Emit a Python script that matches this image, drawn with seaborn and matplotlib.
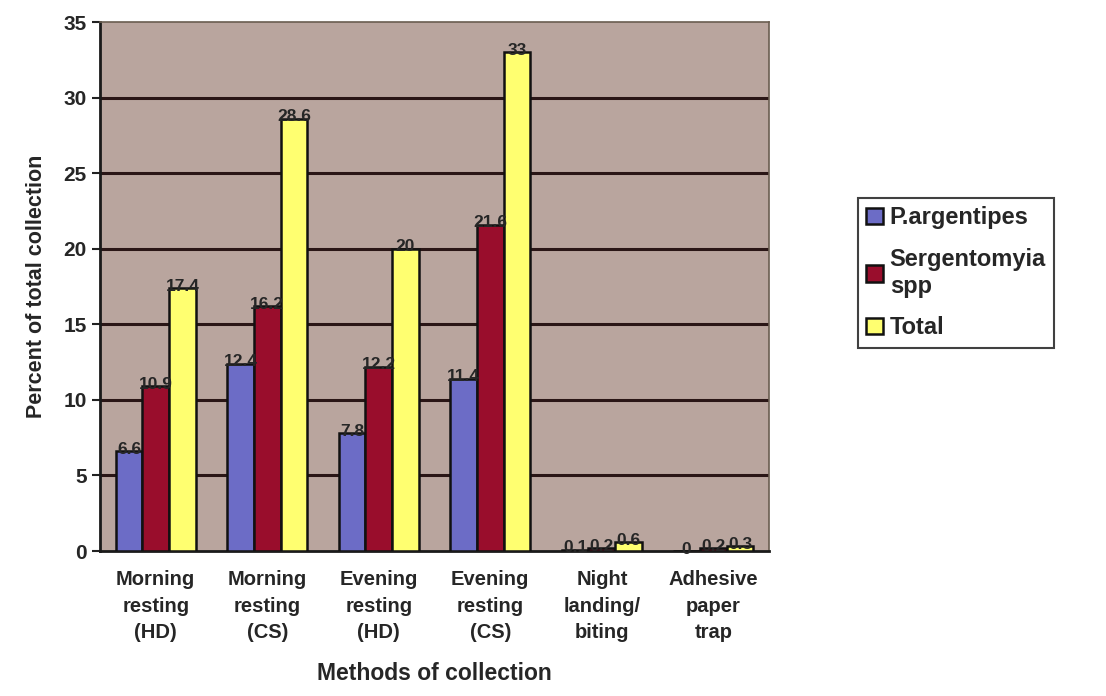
import numpy as np
import pandas as pd
import matplotlib
matplotlib.use("Agg")
import matplotlib.pyplot as plt
import seaborn as sns

# data
methods = ["Morning\nresting\n(HD)", "Morning\nresting\n(CS)", "Evening\nresting\n(HD)",
           "Evening\nresting\n(CS)", "Night\nlanding/\nbiting", "Adhesive\npaper\ntrap"]
series = ["P.argentipes", "Sergentomyia\nspp", "Total"]
p_argentipes = [6.6, 12.4, 7.8, 11.4, 0.1, 0.0]
sergentomyia = [10.9, 16.2, 12.2, 21.6, 0.2, 0.2]
total = [17.4, 28.6, 20, 33, 0.6, 0.3]
colors = ["#6c6cc6", "#990d2c", "#ffff70"]

df = pd.DataFrame({
    "method": methods * 3,
    "series": [series[0]] * 6 + [series[1]] * 6 + [series[2]] * 6,
    "value": p_argentipes + sergentomyia + total,
})

sns.set_style("white")
plt.rcParams["font.family"] = ["Liberation Sans", "DejaVu Sans"]
plt.rcParams["font.weight"] = "bold"

fig = plt.figure(figsize=(11.06, 6.96), dpi=100)
ax = fig.add_axes([0.0904, 0.2083, 0.605, 0.760])
ax.set_facecolor("#b9a59e")

sns.barplot(data=df, x="method", y="value", hue="series", palette=colors, saturation=1,
            width=0.72, edgecolor="#111111", linewidth=1.8, ax=ax, zorder=3)

for cont in ax.containers:
    ax.bar_label(cont, fmt="%g", fontsize=12.5, fontweight="bold", padding=-4, zorder=5)

ax.set_ylim(0, 35)
ax.set_xlim(-0.5, 5.5)
ax.set_yticks(range(0, 36, 5))
for y in range(5, 35, 5):
    ax.axhline(y, color="#2a1616", lw=2.2, zorder=1)

ax.set_xticks(np.arange(-0.5, 6, 1), minor=True)
ax.tick_params(axis="x", which="major", length=0, labelsize=14.5, pad=14)
ax.tick_params(axis="x", which="minor", length=8, width=1.5, color="#222222", direction="out")
ax.tick_params(axis="y", length=6, width=1.5, color="#222222", direction="out", labelsize=15, left=True)
for lab in ax.get_xticklabels():
    lab.set_fontweight("bold")
    lab.set_linespacing(1.5)
for lab in ax.get_yticklabels():
    lab.set_fontweight("bold")

for side in ["left", "bottom"]:
    ax.spines[side].set_color("#1a1a1a")
    ax.spines[side].set_linewidth(2)
for side in ["top", "right"]:
    ax.spines[side].set_color("#6a5e50")
    ax.spines[side].set_linewidth(1.2)

ax.set_xlabel("Methods of collection", fontsize=16.5, fontweight="bold", labelpad=14)
ax.set_ylabel("Percent of total collection", fontsize=15.5, fontweight="bold", labelpad=12)

ax.legend(loc="upper left", bbox_to_anchor=(1.115, 0.69), frameon=True, fancybox=False,
          edgecolor="#111111", handlelength=0.7, handleheight=0.7,
          handletextpad=0.3, labelspacing=0.8, borderpad=0.35,
          prop={"weight": "bold", "size": 17})
ax.get_legend().get_frame().set_linewidth(1.5)

fig.savefig("out.png", dpi=100)
